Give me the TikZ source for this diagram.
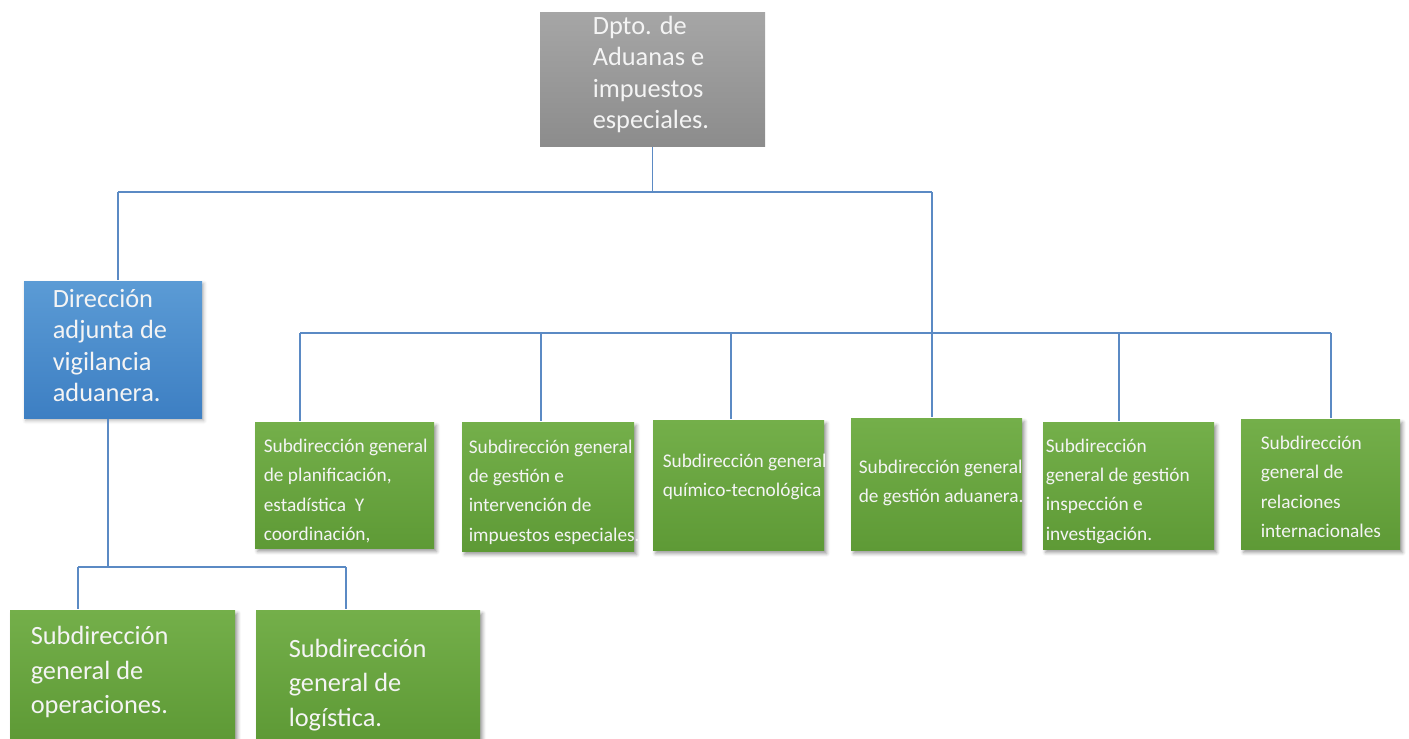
\documentclass[tikz,border=0pt]{standalone}
\usepackage{fontspec}
\setmainfont{Carlito}
\usetikzlibrary{fit,shadows.blur}
\definecolor{lineblue}{HTML}{5B8AC4}
\definecolor{grayTop}{HTML}{A6A6A6}
\definecolor{grayBot}{HTML}{8C8C8C}
\definecolor{blueTop}{HTML}{5B9BD5}
\definecolor{blueBot}{HTML}{3D7FC3}
\definecolor{greenTop}{HTML}{74AF4A}
\definecolor{greenBot}{HTML}{5E9A36}
\definecolor{txtwhite}{HTML}{F4F4F4}

\begin{document}
\begin{tikzpicture}
        [x = 0.02cm, y = -0.02cm, line width = 0.9pt,
         box/.style = {inner sep = 0pt, draw = none},
         graybox/.style = {box, top color = grayTop, bottom color = grayBot},
         bluebox/.style = {box, top color = blueTop, bottom color = blueBot,
                           blur shadow = {shadow xshift = 1pt, shadow yshift = -1.5pt, shadow opacity = 30}},
         greenbox/.style = {box, top color = greenTop, bottom color = greenBot,
                            blur shadow = {shadow xshift = 1.5pt, shadow yshift = -2pt, shadow opacity = 40}},
         bigtxt/.style = {anchor = west, align = left, inner sep = 0pt, text = txtwhite,
                          font = \fontsize{15}{17.9}\selectfont},
         lowtxt/.style = {bigtxt, font = \fontsize{15}{19.8}\selectfont},
         smalltxt/.style = {bigtxt, font = \fontsize{11}{16.7}\selectfont},
         conn/.style = {draw = lineblue}]
        \useasboundingbox (0,0) rectangle (1409,738);

        \node[graybox, fit = {(540,12) (765,146)}] (dpto) {};
        \node[bluebox, fit = {(24,281) (202,418)}] (adjunta) {};
        \node[greenbox, fit = {(255,422) (434,548)}] (planif) {};
        \node[greenbox, fit = {(462,422) (634,551)}] (impesp) {};
        \node[greenbox, fit = {(653,420) (824,550)}] (quimico) {};
        \node[greenbox, fit = {(851,418) (1022,550)}] (gestadu) {};
        \node[greenbox, fit = {(1043,422) (1214,549)}] (inspec) {};
        \node[greenbox, fit = {(1241,419) (1400,549)}] (relint) {};
        \node[greenbox, fit = {(10,610) (235,738)}] (operac) {};
        \node[greenbox, fit = {(256,610) (480,738)}] (logist) {};

        \coordinate (busL) at (118,192);
        \coordinate (busR) at (932,192);
        \coordinate (sA) at (300,333);
        \coordinate (sB) at (541,333);
        \coordinate (sC) at (731,333);
        \coordinate (sD) at (932,333);
        \coordinate (sE) at (1119,333);
        \coordinate (sF) at (1331,333);
        \coordinate (lowL) at (78,567);
        \coordinate (lowM) at (108,567);
        \coordinate (lowR) at (346,567);

        \draw[conn] (dpto.south) -- (dpto.south |- busR);
        \draw[conn] (busL) -- (busR);
        \draw[conn] (busL) -- (busL |- adjunta.north);
        \draw[conn] (busR) -- (sD);
        \draw[conn] (sA) -- (sF);
        \foreach \c/\n in {sA/planif, sB/impesp, sC/quimico, sD/gestadu, sE/inspec, sF/relint}
          \draw[conn] (\c) -- (\c |- \n.north);
        \draw[conn] (lowM |- adjunta.south) -- (lowM);
        \draw[conn] (lowL) -- (lowR);
        \draw[conn] (lowL) -- (lowL |- operac.north);
        \draw[conn] (lowR) -- (lowR |- logist.north);

        \node[bigtxt] (dptoT) at (592,74.5) {Dpto. de\\Aduanas e\\impuestos\\especiales.};
        \node[bigtxt] (adjuntaT) at (52,345.5) {Dirección\\adjunta de\\vigilancia\\aduanera.};
        \node[smalltxt] (planifT) at (263,491) {Subdirección general\\de planificación,\\estadística\ \ Y\\coordinación,};
        \node[smalltxt] (impespT) at (468,492) {Subdirección general\\de gestión e\\intervención de\\impuestos especiales.};
        \node[smalltxt] (quimicoT) at (662,477) {Subdirección general\\químico-tecnológica};
        \node[smalltxt] (gestaduT) at (858,483) {Subdirección general\\de gestión aduanera.};
        \node[smalltxt] (inspecT) at (1045,491) {Subdirección\\general de gestión\\inspección e\\investigación.};
        \node[smalltxt] (relintT) at (1260,487) {Subdirección\\general de\\relaciones\\internacionales};
        \node[lowtxt] (operacT) at (30,672) {Subdirección\\general de\\operaciones.};
        \node[lowtxt] (logistT) at (288,685) {Subdirección\\general de\\logística.};
\end{tikzpicture}
\end{document}
